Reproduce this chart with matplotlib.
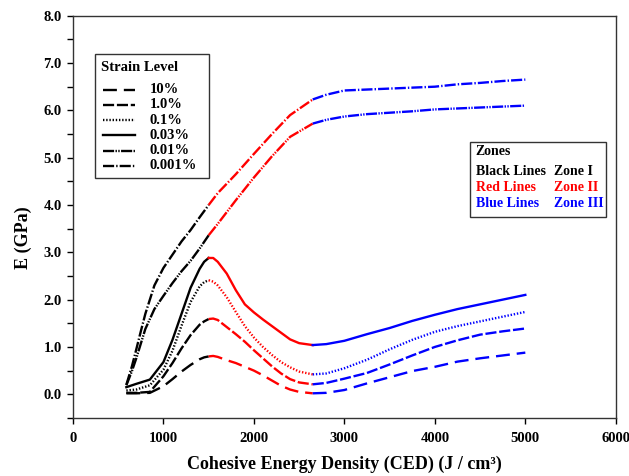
import matplotlib
matplotlib.use("Agg")
import matplotlib.pyplot as plt
from matplotlib.lines import Line2D
from matplotlib.patches import Rectangle
from matplotlib.ticker import MultipleLocator
import numpy as np

plt.rcParams['font.family'] = ['Liberation Serif', 'DejaVu Serif']
plt.rcParams['font.weight'] = 'bold'
plt.rcParams['lines.scale_dashes'] = False

# ---- data ----
x_low = [590, 700, 850, 1000, 1100, 1200, 1300, 1400, 1450, 1500, 1550, 1600, 1700, 1800,
         1900, 2000, 2100, 2200, 2300, 2400, 2500, 2650, 2800, 3000, 3250, 3500, 3750,
         4000, 4250, 4500, 4750, 5000]
e_10 = [0.02, 0.02, 0.03, 0.17, 0.32, 0.48, 0.62, 0.74, 0.78, 0.80, 0.81, 0.79, 0.72, 0.66,
        0.58, 0.50, 0.40, 0.29, 0.18, 0.10, 0.05, 0.02, 0.03, 0.09, 0.23, 0.36, 0.49,
        0.58, 0.69, 0.76, 0.82, 0.88]
e_1 = [0.03, 0.03, 0.05, 0.38, 0.66, 0.97, 1.25, 1.47, 1.54, 1.59, 1.60, 1.57, 1.42, 1.27,
       1.11, 0.93, 0.76, 0.59, 0.44, 0.32, 0.25, 0.21, 0.24, 0.33, 0.45, 0.63, 0.82,
       1.00, 1.14, 1.26, 1.33, 1.39]
e_01 = [0.08, 0.10, 0.19, 0.52, 0.92, 1.45, 1.95, 2.28, 2.37, 2.41, 2.38, 2.30, 2.05, 1.74,
        1.44, 1.20, 1.00, 0.83, 0.68, 0.57, 0.48, 0.42, 0.44, 0.55, 0.73, 0.95, 1.15,
        1.32, 1.44, 1.54, 1.64, 1.74]
e_003 = [0.15, 0.22, 0.31, 0.68, 1.15, 1.70, 2.25, 2.65, 2.80, 2.88, 2.88, 2.80, 2.55, 2.20,
         1.90, 1.73, 1.58, 1.44, 1.30, 1.16, 1.08, 1.04, 1.06, 1.13, 1.27, 1.40, 1.55,
         1.68, 1.80, 1.90, 2.00, 2.10]
x_high = [590, 650, 700, 750, 800, 900, 1000, 1100, 1200, 1300, 1400, 1500, 1600, 1800, 2000,
          2200, 2400, 2650, 2800, 3000, 3250, 3500, 3750, 4000, 4250, 4500, 4750, 5000]
e_001 = [0.19, 0.48, 0.76, 1.07, 1.38, 1.80, 2.08, 2.35, 2.60, 2.82, 3.08, 3.36, 3.60, 4.10,
         4.58, 5.03, 5.44, 5.72, 5.80, 5.87, 5.92, 5.95, 5.98, 6.02, 6.04, 6.06, 6.08, 6.10]
e_0001 = [0.20, 0.58, 0.95, 1.33, 1.70, 2.30, 2.67, 2.95, 3.23, 3.47, 3.74, 4.00, 4.25, 4.65,
          5.08, 5.50, 5.90, 6.23, 6.33, 6.42, 6.44, 6.46, 6.48, 6.50, 6.55, 6.58, 6.62, 6.65]

strain_labels = ['10%', '1.0%', '0.1%', '0.03%', '0.01%', '0.001%']
zone_bounds = [1500, 2650]
zone_colors = ['black', 'red', 'blue']

series = [(x_low, e_10), (x_low, e_1), (x_low, e_01), (x_low, e_003),
          (x_high, e_001), (x_high, e_0001)]
styles = [dict(dashes=(10, 5)), dict(dashes=(8, 2)), dict(dashes=(1, 1.3)),
          dict(linestyle='-'), dict(dashes=(8, 1, 1, 1, 1, 1)), dict(dashes=(8, 1.5, 1, 1.5))]

fig = plt.figure(figsize=(6.29, 4.76), dpi=100)
ax = fig.add_axes([0.116, 0.122, 0.863, 0.845])

lw = 1.7
for (xs, ys), st in zip(series, styles):
    xs = np.array(xs); ys = np.array(ys)
    masks = [xs <= zone_bounds[0],
             (xs >= zone_bounds[0]) & (xs <= zone_bounds[1]),
             xs >= zone_bounds[1]]
    for m, c in zip(masks, zone_colors):
        ax.plot(xs[m], ys[m], color=c, lw=lw, **st)

ax.set_xlim(0, 6000)
ax.set_ylim(-0.5, 8.0)
ax.set_xticks(np.arange(0, 6001, 1000))
ax.set_yticks(np.arange(0, 8.01, 1.0))
ax.set_yticklabels([f'{v:.1f}' for v in np.arange(0, 8.01, 1.0)])
ax.yaxis.set_minor_locator(MultipleLocator(0.5))
ax.tick_params(axis='y', which='major', direction='out', length=4, width=1,
               labelsize=10.5, pad=4)
ax.tick_params(axis='x', which='major', direction='out', length=4, width=1,
               labelsize=10.5, pad=6)
ax.tick_params(axis='y', which='minor', direction='out', length=4, width=1)
for lab in ax.get_xticklabels() + ax.get_yticklabels():
    lab.set_fontweight('bold')
for s in ax.spines.values():
    s.set_linewidth(1.0)
    s.set_color('#333333')

ax.set_xlabel('Cohesive Energy Density (CED) (J / cm³)', fontsize=13, fontweight='bold',
              labelpad=8)
ax.set_ylabel('E (GPa)', fontsize=13, fontweight='bold')
ax.yaxis.set_label_coords(-0.076, 0.448)


def fx(px):
    return (px - 73) / 543.0


def fy(py):
    return (418 - py) / 402.0


# strain legend (manual box)
ax.add_patch(Rectangle((fx(95), fy(178)), fx(209) - fx(95), fy(54) - fy(178),
                       transform=ax.transAxes, facecolor='white', edgecolor='#333333',
                       lw=1.0, zorder=5))
ax.text(fx(101), fy(68), 'Strain Level', transform=ax.transAxes, fontsize=10.5,
        fontweight='bold', va='center', ha='left', zorder=6)
for i, (lab, st) in enumerate(zip(strain_labels, styles)):
    yy = fy(90 + 15.2 * i)
    ax.add_line(Line2D([fx(103), fx(135)], [yy, yy], transform=ax.transAxes,
                       color='black', lw=lw, zorder=6, **st))
    ax.text(fx(150), yy, lab, transform=ax.transAxes, fontsize=10.5,
            fontweight='bold', va='center', ha='left', zorder=6)

# zones box
ax.add_patch(Rectangle((fx(470), fy(217)), fx(606) - fx(470), fy(142) - fy(217),
                       transform=ax.transAxes, facecolor='white', edgecolor='#333333',
                       lw=1.0, zorder=5))
zone_rows = [('Zones', '', 'black'), ('Black Lines', 'Zone I', 'black'),
             ('Red Lines', 'Zone II', 'red'), ('Blue Lines', 'Zone III', 'blue')]
ys_px = [152, 171.5, 188, 204]
for (a, b, c), yp in zip(zone_rows, ys_px):
    ax.text(fx(476), fy(yp), a, color=c, transform=ax.transAxes, fontsize=10,
            fontweight='bold', va='center', zorder=6)
    if b:
        ax.text(fx(554), fy(yp), b, color=c, transform=ax.transAxes, fontsize=10,
                fontweight='bold', va='center', zorder=6)

fig.savefig('out.png', dpi=100)
